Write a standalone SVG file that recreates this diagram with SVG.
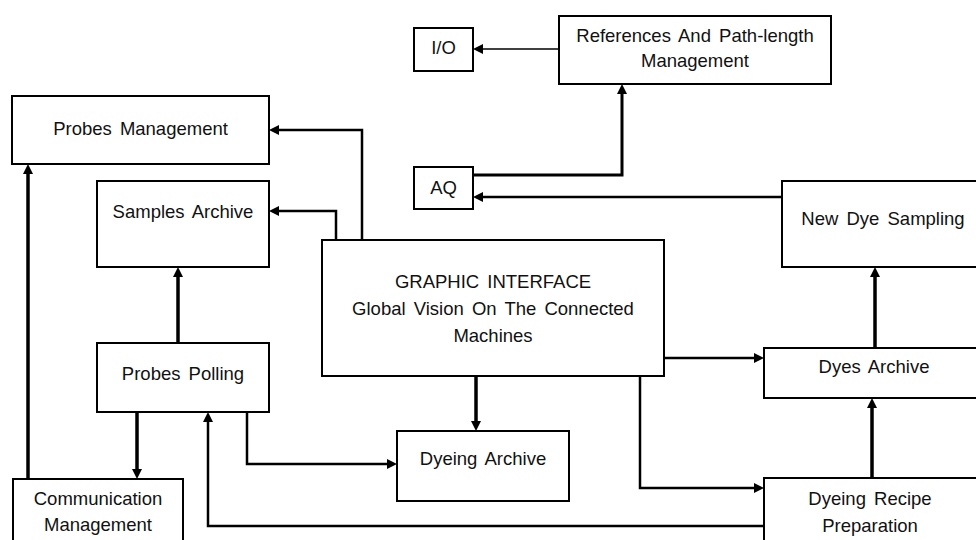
<svg xmlns="http://www.w3.org/2000/svg" width="976" height="540" viewBox="0 0 976 540">
<style>
.box{fill:#fff;stroke:#000;stroke-width:2}
.t{font-family:"Liberation Sans",Arial,sans-serif;font-size:18.5px;fill:#111;text-anchor:middle;word-spacing:3px}
.c{fill:none;stroke:#000;stroke-width:2.5;marker-end:url(#ah)}
.v{stroke-width:3.5}
.thin{stroke-width:1.6}
</style>
<defs>
<marker id="ah" markerUnits="userSpaceOnUse" markerWidth="10" markerHeight="10" refX="0" refY="5" orient="auto" overflow="visible">
<path d="M0,0 L10,5 L0,10 z" fill="#000"/>
</marker>
</defs>
<rect width="976" height="540" fill="#fff"/>
<g id="connectors">
<path class="c thin" d="M559,49 H483"/>
<path class="c" d="M473,175 H622 V94" style="stroke-width:3"/>
<path class="c" d="M782,197 H483"/>
<path class="c" d="M362,240 V130 H279"/>
<path class="c" d="M336,240 V211 H279"/>
<path class="c v" d="M178,343 V277"/>
<path class="c v" d="M137,412 V469"/>
<path class="c v" d="M28,479 V174"/>
<path class="c" d="M247,412 V464 H387"/>
<path class="c v" d="M476,376 V421"/>
<path class="c" d="M664,358 H754"/>
<path class="c" d="M640,376 V488 H754"/>
<path class="c" d="M764,526 H208 V422"/>
<path class="c v" d="M875,348 V277"/>
<path class="c v" d="M872,478 V408"/>
</g>
<g id="io"><rect class="box" x="414" y="28" width="59" height="43"/><text class="t" x="443.5" y="54">I/O</text></g>
<g id="refs"><rect class="box" x="559" y="16" width="272" height="68"/><text class="t" x="695" y="42">References And Path-length</text><text class="t" x="695" y="67">Management</text></g>
<g id="aq"><rect class="box" x="414" y="167" width="59" height="42"/><text class="t" x="443.5" y="194">AQ</text></g>
<g id="probes_mgmt"><rect class="box" x="12" y="96" width="257" height="68"/><text class="t" x="140.5" y="135">Probes Management</text></g>
<g id="samples_archive"><rect class="box" x="97" y="181" width="172" height="86"/><text class="t" x="183" y="218">Samples Archive</text></g>
<g id="probes_polling"><rect class="box" x="97" y="343" width="172" height="69"/><text class="t" x="183" y="380">Probes Polling</text></g>
<g id="comm_mgmt"><rect class="box" x="13" y="479" width="170" height="70"/><text class="t" x="98" y="505">Communication</text><text class="t" x="98" y="531">Management</text></g>
<g id="graphic_interface"><rect class="box" x="322" y="240" width="342" height="136"/><text class="t" x="493" y="288">GRAPHIC INTERFACE</text><text class="t" x="493" y="315">Global Vision On The Connected</text><text class="t" x="493" y="342">Machines</text></g>
<g id="dyeing_archive"><rect class="box" x="397" y="431" width="172" height="70"/><text class="t" x="483" y="465">Dyeing Archive</text></g>
<g id="new_dye_sampling"><rect class="box" x="782" y="181" width="200" height="86"/><text class="t" x="883" y="225">New Dye Sampling</text></g>
<g id="dyes_archive"><rect class="box" x="764" y="348" width="218" height="50"/><text class="t" x="874" y="373">Dyes Archive</text></g>
<g id="dyeing_recipe"><rect class="box" x="764" y="478" width="218" height="70"/><text class="t" x="870" y="505">Dyeing Recipe</text><text class="t" x="870" y="532">Preparation</text></g>
</svg>
